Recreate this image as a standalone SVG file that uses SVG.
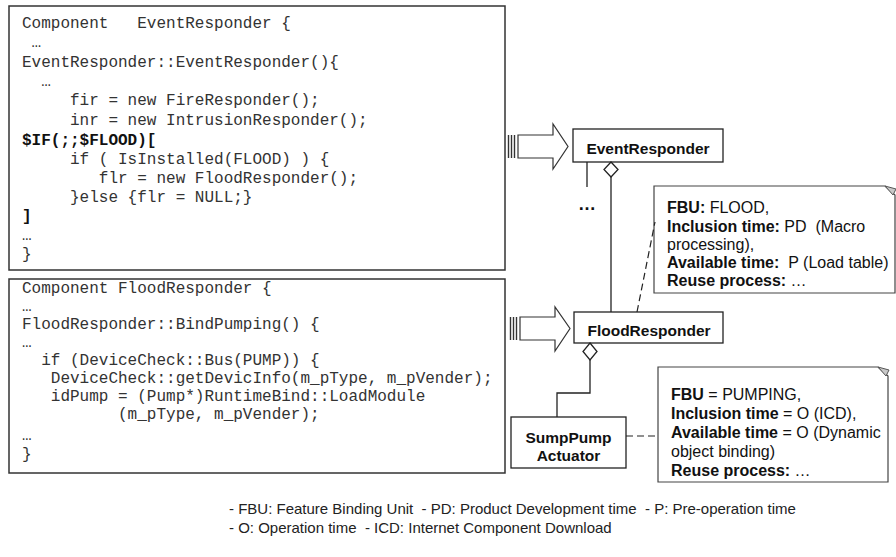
<svg xmlns="http://www.w3.org/2000/svg" width="896" height="557" viewBox="0 0 896 557">
  <defs>
    <style>
      .code { font-family: "Liberation Mono", "Courier New", monospace; font-size: 16px; fill: #333; white-space: pre; }
      .code .b { font-weight: bold; fill: #111; }
      .frame { fill: #fff; stroke: #333; stroke-width: 1.5; }
      .cls { fill: #fff; stroke: #222; stroke-width: 1.3; }
      .cname { font-family: "Liberation Sans", Arial, sans-serif; font-size: 15.5px; font-weight: bold; fill: #111; text-anchor: middle; }
      .note { fill: #fff; stroke: #444; stroke-width: 1.2; }
      .fold { fill: #c8c8c8; stroke: #555; stroke-width: 1; }
      .ntext { font-family: "Liberation Sans", Arial, sans-serif; font-size: 16px; fill: #111; white-space: pre; }
      .ntext .b { font-weight: bold; }
      .legend { font-family: "Liberation Sans", Arial, sans-serif; font-size: 15px; fill: #222; white-space: pre; }
      .line { fill: none; stroke: #222; stroke-width: 1.3; }
      .dash { fill: none; stroke: #222; stroke-width: 1.2; stroke-dasharray: 7 4; }
      .diamond { fill: #fff; stroke: #222; stroke-width: 1.3; }
      .barrow { fill: #fff; stroke: #333; stroke-width: 1.2; }
      .stripe { stroke: #333; stroke-width: 1.4; }
    </style>
  </defs>

  <!-- Source listing: EventResponder -->
  <g id="code-event-responder">
    <rect class="frame" x="9" y="6" width="496" height="264"/>
    <text class="code" xml:space="preserve">
      <tspan x="22" y="28">Component   EventResponder {</tspan>
      <tspan x="22" y="47"> …</tspan>
      <tspan x="22" y="66.5">EventResponder::EventResponder(){</tspan>
      <tspan x="22" y="86">  …</tspan>
      <tspan x="22" y="105">     fir = new FireResponder();</tspan>
      <tspan x="22" y="124.5">     inr = new IntrusionResponder();</tspan>
      <tspan x="22" y="145" class="b">$IF(;;$FLOOD)[</tspan>
      <tspan x="22" y="164">     if ( IsInstalled(FLOOD) ) {</tspan>
      <tspan x="22" y="183">        flr = new FloodResponder();</tspan>
      <tspan x="22" y="201.5">     }else {flr = NULL;}</tspan>
      <tspan x="22" y="221" class="b">]</tspan>
      <tspan x="22" y="240">…</tspan>
      <tspan x="22" y="259">}</tspan>
    </text>
  </g>

  <!-- Source listing: FloodResponder -->
  <g id="code-flood-responder">
    <rect class="frame" x="9" y="279" width="496" height="194"/>
    <text class="code" xml:space="preserve">
      <tspan x="22" y="293">Component FloodResponder {</tspan>
      <tspan x="22" y="311">…</tspan>
      <tspan x="22" y="329">FloodResponder::BindPumping() {</tspan>
      <tspan x="22" y="347">…</tspan>
      <tspan x="22" y="365">  if (DeviceCheck::Bus(PUMP)) {</tspan>
      <tspan x="22" y="383">   DeviceCheck::getDevicInfo(m_pType, m_pVender);</tspan>
      <tspan x="22" y="401">   idPump = (Pump*)RuntimeBind::LoadModule</tspan>
      <tspan x="22" y="419">          (m_pType, m_pVender);</tspan>
      <tspan x="22" y="440">…</tspan>
      <tspan x="22" y="459">}</tspan>
    </text>
  </g>

  <!-- Class nodes -->
  <g id="node-event-responder">
    <rect class="cls" x="573" y="129" width="150" height="33"/>
    <text class="cname" x="648" y="153.5">EventResponder</text>
  </g>

  <g id="node-flood-responder">
    <rect class="cls" x="574" y="312" width="149" height="31"/>
    <text class="cname" x="649" y="335.5">FloodResponder</text>
  </g>

  <g id="node-sumppump-actuator">
    <rect class="cls" x="511" y="417" width="115" height="51"/>
    <text class="cname" x="568.5" y="442.5">SumpPump</text>
    <text class="cname" x="568.5" y="461">Actuator</text>
  </g>

  <!-- Binding-time notes -->
  <g id="note-flood">
    <path class="note" d="M654,186 H885 L895,195 V293 H654 Z"/>
    <polygon class="fold" points="885,186 896,189 893,195"/>
    <text class="ntext" xml:space="preserve">
      <tspan x="667" y="213"><tspan class="b">FBU:</tspan> FLOOD,</tspan>
      <tspan x="667" y="231.5"><tspan class="b">Inclusion time:</tspan> PD  (Macro</tspan>
      <tspan x="667" y="249.5">processing),</tspan>
      <tspan x="667" y="268"><tspan class="b">Available time:</tspan>  P (Load table)</tspan>
      <tspan x="667" y="286"><tspan class="b">Reuse process:</tspan> …</tspan>
    </text>
  </g>

  <g id="note-pumping">
    <path class="note" d="M658,367 H878 L888,376 V482 H658 Z"/>
    <polygon class="fold" points="878,367 889,370 886,376"/>
    <text class="ntext" xml:space="preserve">
      <tspan x="671" y="400"><tspan class="b">FBU</tspan> = PUMPING,</tspan>
      <tspan x="671" y="419"><tspan class="b">Inclusion time</tspan> = O (ICD),</tspan>
      <tspan x="671" y="438"><tspan class="b">Available time</tspan> = O (Dynamic</tspan>
      <tspan x="671" y="457">object binding)</tspan>
      <tspan x="671" y="476"><tspan class="b">Reuse process:</tspan> …</tspan>
    </text>
  </g>

  <!-- Connectors -->
  <g id="connectors">
    <!-- code-to-class block arrows -->
    <g id="arrow-event">
      <line class="stripe" x1="508.5" y1="135" x2="508.5" y2="158"/>
      <line class="stripe" x1="511.5" y1="135" x2="511.5" y2="158"/>
      <line class="stripe" x1="514.5" y1="135" x2="514.5" y2="158"/>
      <path class="barrow" d="M518,135 H553 V124 L568,146.5 L553,169 V158 H518 Z"/>
    </g>
    <g id="arrow-flood">
      <line class="stripe" x1="510.5" y1="317" x2="510.5" y2="340"/>
      <line class="stripe" x1="513.5" y1="317" x2="513.5" y2="340"/>
      <line class="stripe" x1="516.5" y1="317" x2="516.5" y2="340"/>
      <path class="barrow" d="M520,317 H555 V307 L570,328.5 L555,351 V340 H520 Z"/>
    </g>

    <!-- EventResponder: other parts and aggregation of FloodResponder -->
    <line class="line" x1="587" y1="162" x2="587" y2="187"/>
    <text x="587" y="210" text-anchor="middle" font-family="Liberation Sans, Arial, sans-serif" font-size="18" font-weight="bold" fill="#111">…</text>
    <polygon class="diamond" points="611,162 618,169.5 611,177 604,169.5"/>
    <line class="line" x1="611" y1="177" x2="611" y2="312"/>

    <!-- FloodResponder aggregates SumpPump Actuator -->
    <polygon class="diamond" points="590,343 597,351.5 590,360 583,351.5"/>
    <polyline class="line" points="590,360 590,393 557,393 557,417"/>

    <!-- note anchors -->
    <line class="dash" x1="637" y1="312" x2="655" y2="222"/>
    <line class="dash" x1="626" y1="436" x2="658" y2="436"/>
  </g>

  <!-- Abbreviations -->
  <g id="legend">
    <text class="legend" x="229" y="514" xml:space="preserve">- FBU: Feature Binding Unit  - PD: Product Development time  - P: Pre-operation time</text>
    <text class="legend" x="229" y="533" xml:space="preserve">- O: Operation time  - ICD: Internet Component Download</text>
  </g>
</svg>
